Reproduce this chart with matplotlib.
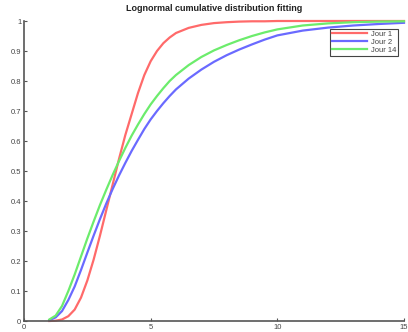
import matplotlib
matplotlib.use("Agg")
import matplotlib.pyplot as plt

# values
x_vals = [1, 1.25, 1.5, 1.75, 2, 2.25, 2.5, 2.75, 3, 3.25, 3.5, 3.75, 4, 4.25,
          4.5, 4.75, 5, 5.25, 5.5, 5.75, 6, 6.5, 7, 7.5, 8, 8.5, 9, 9.5, 10,
          11, 12, 13, 14, 15]

jour1 = [0.000, 0.001, 0.005, 0.016, 0.038, 0.078, 0.135, 0.205, 0.285, 0.370,
         0.455, 0.540, 0.620, 0.690, 0.760, 0.820, 0.866, 0.900, 0.926, 0.945,
         0.960, 0.977, 0.987, 0.993, 0.996, 0.998, 0.999, 0.999, 1.0,
         1.0, 1.0, 1.0, 1.0, 1.0]

jour2 = [0.003, 0.012, 0.033, 0.070, 0.115, 0.170, 0.228, 0.285, 0.340, 0.392,
         0.440, 0.485, 0.527, 0.567, 0.604, 0.640, 0.672, 0.700, 0.726, 0.750,
         0.772, 0.808, 0.838, 0.864, 0.886, 0.905, 0.922, 0.938, 0.952,
         0.968, 0.978, 0.985, 0.990, 0.994]

jour14 = [0.005, 0.018, 0.050, 0.100, 0.155, 0.215, 0.275, 0.332, 0.387, 0.438,
          0.487, 0.533, 0.577, 0.618, 0.655, 0.690, 0.722, 0.750, 0.776, 0.800,
          0.820, 0.853, 0.880, 0.902, 0.920, 0.936, 0.950, 0.962, 0.972,
          0.985, 0.992, 0.996, 0.998, 0.999]

series_labels = ["Jour 1", "Jour 2", "Jour 14"]
title = "Lognormal cumulative distribution fitting"

plt.rcParams['font.family'] = ['Liberation Sans', 'DejaVu Sans']

fig = plt.figure(figsize=(4.08, 3.32), dpi=100, facecolor='white')
ax = fig.add_axes([24 / 408, 11 / 332, 380 / 408, 300 / 332])

colors = ['#ff6a6a', '#6a6aff', '#6cec6c']
for ys, c, lab in zip([jour1, jour2, jour14], colors, series_labels):
    ax.plot(x_vals, ys, color=c, lw=1.6, label=lab, clip_on=False,
            solid_joinstyle='round')

ax.set_xlim(0, 15)
ax.set_ylim(0, 1)
ax.set_xticks([0, 5, 10, 15])
ax.set_yticks([i / 10 for i in range(11)])
ax.set_yticklabels(['0', '0.1', '0.2', '0.3', '0.4', '0.5', '0.6', '0.7',
                    '0.8', '0.9', '1'])

for side in ['top', 'right']:
    ax.spines[side].set_visible(False)
for side in ['left', 'bottom']:
    ax.spines[side].set_color('#555555')
    ax.spines[side].set_linewidth(1.2)

ax.tick_params(direction='in', length=2.5, width=0.8, color='#555555',
               labelsize=5.5, labelcolor='#444444', pad=2)

ax.set_title(title, fontsize=6.5, fontweight='bold', color='#222222', pad=7)

leg = ax.legend(loc='upper right', bbox_to_anchor=(0.985, 0.975), fontsize=5.5,
                fancybox=False, framealpha=1, edgecolor='#444444',
                handlelength=4.5, borderpad=0.3, labelspacing=0.05,
                handletextpad=0.5, borderaxespad=0)
leg.get_frame().set_linewidth(0.8)
for t in leg.get_texts():
    t.set_color('#444444')

fig.savefig('out.png', dpi=100, facecolor='white')
